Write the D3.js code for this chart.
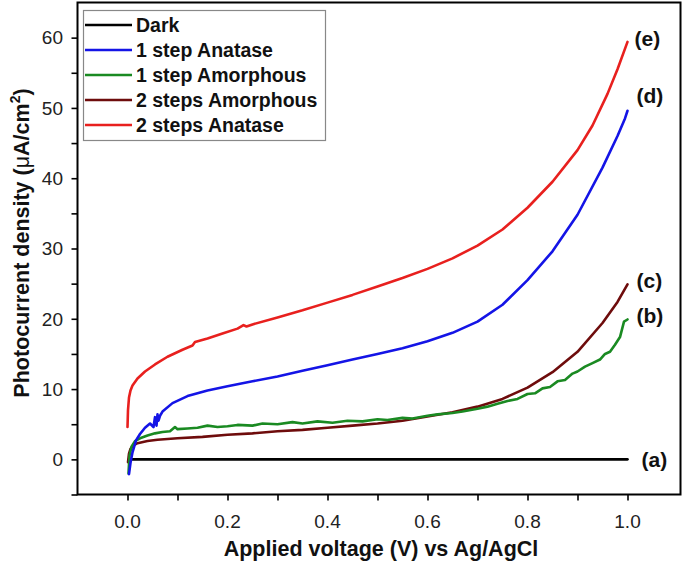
<!DOCTYPE html>
<html><head><meta charset="utf-8">
<script src="https://cdn.jsdelivr.net/npm/d3@7/dist/d3.min.js"></script>
<style>body{margin:0;background:#fff}svg{display:block}</style>
</head><body>
<svg id="c" width="685" height="566"></svg>
<script>
const seriesNames = ["Dark","1 step Anatase","1 step Amorphous","2 steps Amorphous","2 steps Anatase"];
const seriesLabels = ["(a)","(d)","(b)","(c)","(e)"];
const xTicks = [0.0,0.2,0.4,0.6,0.8,1.0];
const yTicks = [0,10,20,30,40,50,60];

const darkX = [0.003,1.000];
const darkY = [0,0];

const anatase1X = [0.003,0.006,0.010,0.017,0.025,0.035,0.045,0.052,0.055,0.058,0.060,0.062,0.065,0.070,0.090,0.120,0.160,0.200,0.250,0.300,0.350,0.400,0.450,0.500,0.550,0.600,0.650,0.700,0.750,0.800,0.850,0.900,0.950,0.980,0.995,1.000];
const anatase1Y = [-2.1,-0.5,1.0,2.7,3.6,4.5,5.1,4.6,6.0,4.8,6.4,5.5,6.2,6.8,8.0,9.0,9.8,10.4,11.1,11.8,12.6,13.4,14.2,15.0,15.8,16.8,18.0,19.6,22.0,25.5,29.6,34.8,41.5,46.0,48.5,49.6];

const amorph1X = [0.002,0.004,0.008,0.015,0.025,0.040,0.055,0.070,0.085,0.095,0.100,0.120,0.140,0.160,0.180,0.200,0.220,0.250,0.270,0.300,0.330,0.350,0.380,0.410,0.440,0.470,0.500,0.520,0.550,0.570,0.600,0.620,0.650,0.670,0.700,0.720,0.740,0.760,0.780,0.800,0.815,0.830,0.845,0.860,0.875,0.890,0.900,0.915,0.930,0.945,0.955,0.965,0.975,0.985,0.993,1.000];
const amorph1Y = [-2.0,0.5,1.8,2.6,3.0,3.4,3.7,3.9,4.0,4.6,4.3,4.4,4.5,4.8,4.6,4.7,4.9,4.8,5.1,5.0,5.3,5.1,5.4,5.2,5.5,5.4,5.7,5.6,5.9,5.8,6.2,6.4,6.6,6.8,7.2,7.5,7.9,8.3,8.6,9.3,9.4,10.1,10.3,11.1,11.3,12.2,12.5,13.2,13.7,14.2,15.0,15.3,16.3,17.4,19.6,19.9];

const amorph2X = [0.001,0.003,0.006,0.012,0.020,0.040,0.060,0.100,0.150,0.200,0.250,0.300,0.350,0.400,0.450,0.500,0.550,0.600,0.650,0.700,0.750,0.800,0.850,0.900,0.950,0.980,1.000];
const amorph2Y = [-0.4,0.8,1.5,2.0,2.3,2.6,2.8,3.0,3.2,3.5,3.7,4.0,4.2,4.5,4.8,5.1,5.5,6.1,6.7,7.5,8.6,10.2,12.4,15.3,19.4,22.4,24.9];

const anatase2X = [0.000,0.001,0.003,0.006,0.010,0.020,0.035,0.055,0.080,0.110,0.130,0.135,0.160,0.190,0.220,0.232,0.238,0.250,0.300,0.350,0.400,0.450,0.500,0.550,0.600,0.650,0.700,0.750,0.800,0.850,0.900,0.930,0.960,0.980,1.000];
const anatase2Y = [4.6,7.0,8.8,9.8,10.5,11.5,12.5,13.5,14.6,15.6,16.2,16.7,17.2,17.9,18.6,19.1,18.9,19.2,20.2,21.2,22.3,23.4,24.6,25.8,27.1,28.6,30.4,32.7,35.8,39.5,44.0,47.5,52.0,55.5,59.4];

// label anchor positions (voltage, current) for the (a)-(e) tags
const labelX = [1.028,1.018,1.018,1.018,1.014];
const labelY = [0,51.8,20.5,25.4,59.9];

const colors = ["#000000","#1414e6","#1a8a22","#6e0c0c","#e8201e"];

const series = [
  {x:darkX,y:darkY},{x:anatase1X,y:anatase1Y},{x:amorph1X,y:amorph1Y},
  {x:amorph2X,y:amorph2Y},{x:anatase2X,y:anatase2Y}
].map((s,i)=>({name:seriesNames[i],label:seriesLabels[i],color:colors[i],lx:labelX[i],ly:labelY[i],
  pts:s.x.map((v,j)=>[v,s.y[j]])}));

const svg = d3.select("#c");
const L=77.5, R=680.5, T=2.5, B=494.5;
const x = d3.scaleLinear().domain([-0.1,1.106]).range([L,R]);
const y = d3.scaleLinear().domain([-5,65]).range([B,T]);
const font = "'Liberation Sans', Arial, sans-serif";

// curves
const line = d3.line().x(d=>x(d[0])).y(d=>y(d[1])).curve(d3.curveLinear);
const drawOrder = [0,3,2,1,4];
drawOrder.forEach(i=>{
  const s=series[i];
  svg.append("path").attr("d",line(s.pts)).attr("fill","none")
    .attr("stroke",s.color).attr("stroke-width",2.6).attr("stroke-linejoin","round").attr("stroke-linecap","round");
});

// series end labels
series.forEach(s=>{
  svg.append("text").attr("x",x(s.lx)).attr("y",y(s.ly)).attr("dy","0.36em")
    .attr("font-family",font).attr("font-weight","bold").attr("font-size",21).attr("fill","#111")
    .text(s.label);
});

// axes
const xAxis = d3.axisBottom(x).tickValues(d3.range(0,1.05,0.1)).tickSize(6).tickFormat("");
const gx = svg.append("g").attr("transform",`translate(0,${B})`).call(xAxis);
gx.selectAll(".tick line").attr("stroke","#000").attr("stroke-width",1.6);
gx.select(".domain").remove();
xTicks.forEach(v=>{
  svg.append("text").attr("x",x(v)).attr("y",528).attr("text-anchor","middle")
    .attr("font-family",font).attr("font-size",19).attr("fill","#222").text(d3.format(".1f")(v));
});
const yAxis = d3.axisLeft(y).tickValues(d3.range(-5,65,5)).tickSize(6).tickFormat("");
const gy = svg.append("g").attr("transform",`translate(${L},0)`).call(yAxis);
gy.selectAll(".tick line").attr("stroke","#000").attr("stroke-width",1.6);
gy.select(".domain").remove();
yTicks.forEach(v=>{
  svg.append("text").attr("x",63).attr("y",y(v)).attr("dy","0.36em").attr("text-anchor","end")
    .attr("font-family",font).attr("font-size",19).attr("fill","#222").text(v);
});
// frame
svg.append("rect").attr("x",L).attr("y",T).attr("width",R-L).attr("height",B-T)
  .attr("fill","none").attr("stroke","#000").attr("stroke-width",2);

// axis titles
svg.append("text").attr("x",381).attr("y",556).attr("text-anchor","middle")
  .attr("font-family",font).attr("font-weight","bold").attr("font-size",21.5).attr("fill","#111")
  .text("Applied voltage (V) vs Ag/AgCl");
const yt = svg.append("text").attr("transform","translate(29,243) rotate(-90)").attr("text-anchor","middle")
  .attr("font-family",font).attr("font-weight","bold").attr("font-size",21.5).attr("fill","#111");
yt.append("tspan").text("Photocurrent density (");
yt.append("tspan").attr("font-weight","normal").text("μ");
yt.append("tspan").text("A/cm");
yt.append("tspan").attr("font-size",14).attr("dy",-9).text("2");
yt.append("tspan").attr("dy",9).text(")");

// legend
const lg = svg.append("g");
lg.append("rect").attr("x",83.5).attr("y",10.5).attr("width",242).attr("height",130)
  .attr("fill","#fff").attr("stroke","#888").attr("stroke-width",1.2);
series.forEach((s,i)=>{
  const yy = 25 + i*25;
  lg.append("line").attr("x1",85).attr("x2",132).attr("y1",yy).attr("y2",yy)
    .attr("stroke",s.color).attr("stroke-width",2.6);
  lg.append("text").attr("x",136).attr("y",yy).attr("dy","0.36em").attr("font-family",font).attr("font-weight","bold")
    .attr("font-size",19.5).attr("fill","#111").text(s.name);
});
</script>
</body></html>
